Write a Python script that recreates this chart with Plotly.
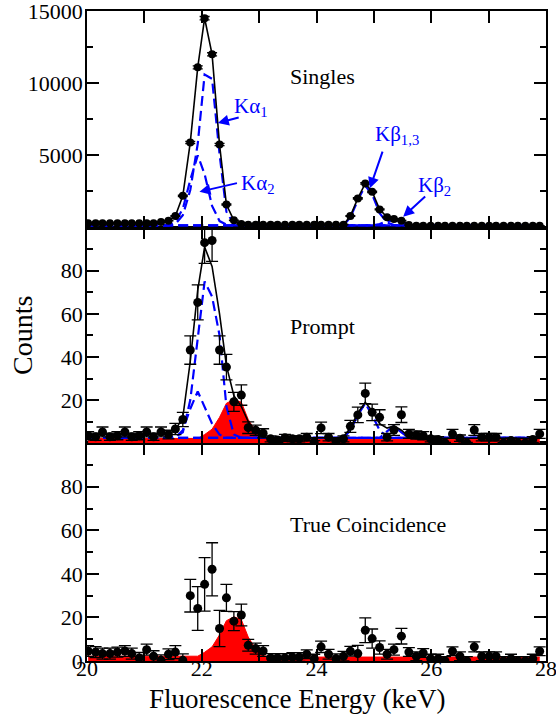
import plotly.graph_objects as go

# ---------------- data ----------------
energy = [20.02, 20.15, 20.27, 20.40, 20.53, 20.66, 20.78, 20.91, 21.04, 21.16,
          21.29, 21.42, 21.54, 21.67, 21.80, 21.93, 22.05, 22.18, 22.31, 22.43,
          22.56, 22.69, 22.81, 22.94, 23.07, 23.20, 23.32, 23.45, 23.58, 23.70,
          23.83, 23.96, 24.08, 24.21, 24.34, 24.47, 24.59, 24.72, 24.85, 24.97,
          25.10, 25.23, 25.35, 25.48, 25.61, 25.74, 25.86, 25.99, 26.12, 26.24,
          26.37, 26.50, 26.62, 26.75, 26.88, 27.01, 27.13, 27.26, 27.39, 27.51,
          27.64, 27.77, 27.89]

singles = [300] * 10 + [380, 480, 800, 2200, 5900, 11100, 14500, 12000, 5750, 1600, 500, 250] \
    + [200] * 14 + [800, 2020, 3060, 2480, 1260, 710, 590, 470, 180] + [130] * 18
singles_err = [17] * 10 + [19, 22, 28, 47, 77, 105, 120, 110, 76, 40, 22, 16] \
    + [14] * 14 + [28, 45, 55, 50, 35, 27, 24, 22, 13] + [11] * 18

s_ka1 = [150] * 12 + [250, 850, 2600, 5800, 10600, 10300, 5100, 1100, 250] + [150] * 42
s_ka2 = [150] * 12 + [400, 1300, 3300, 5000, 3700, 1500, 450, 200] + [150] * 43
s_kb13 = [150] * 36 + [700, 1900, 2900, 2300, 1000, 350, 180] + [150] * 20
s_kb2 = [150] * 40 + [250, 450, 480, 400, 200] + [150] * 18

prompt = [3.5, 3.0, 5.2, 3.0, 3.5, 5.2, 3.0, 3.5, 5.2, 3.0,
          5.2, 4.0, 6.6, 11.0, 43.2, 65.3, 93.0, 94.0, 43.2, 35.3,
          19.2, 22.3, 7.2, 6.0, 4.6, 2.0, 1.5, 2.5, 2.0, 2.0,
          2.8, 0.5, 7.1, 2.8, 0.8, 2.0, 7.8, 13.1, 23.1, 14.3,
          12.0, 2.8, 6.1, 13.2, 4.3, 3.8, 3.5, 2.0, 1.7, 0.1,
          4.3, 2.3, 0.1, 6.1, 2.8, 2.8, 2.8, 0.1, 1.2, 0.1,
          0.1, 1.7, 4.3]
prompt_err = [1.9, 1.7, 2.3, 1.7, 1.9, 2.3, 1.7, 1.9, 2.3, 1.7,
              2.3, 2.0, 2.6, 3.3, 6.6, 8.1, 9.6, 9.7, 6.6, 5.9,
              4.4, 4.7, 2.7, 2.4, 2.1, 1.4, 1.2, 1.6, 1.4, 1.4,
              1.7, 0.7, 2.7, 1.7, 0.9, 1.4, 2.8, 3.6, 4.8, 3.8,
              3.5, 1.7, 2.5, 3.6, 2.1, 1.9, 1.9, 1.4, 1.3, 0.3,
              2.1, 1.5, 0.3, 2.5, 1.7, 1.7, 1.7, 0.3, 1.1, 0.3,
              0.3, 1.3, 2.1]
prompt_fit = [4.0] * 11 + [4.3, 6, 12, 38, 71, 91, 82, 60, 36, 22, 17, 10, 5, 3] \
    + [2.5] * 10 + [3, 7, 14, 19, 15, 9, 7, 8, 6, 3] + [2.3] * 18
p_ka1 = [2.5] * 12 + [3, 5, 20, 50, 75, 68, 50, 17, 4] + [2.5] * 42
p_ka2 = [2.5] * 13 + [6, 16, 24, 17, 9, 4] + [2.5] * 44
p_kb13 = [2.5] * 36 + [6, 13, 18.5, 13, 6, 3] + [2.5] * 21
p_kb2 = [2.5] * 41 + [5.5, 8, 5] + [2.5] * 19

red_peak = [2.2] * 16 + [4, 6.5, 12, 18.5, 20.3, 19, 11, 5.5, 2.5] + [1.8] * 38

true_coinc = [4.6, 4.1, 3.4, 3.4, 4.1, 4.6, 3.4, 1.4, 5.2, 2.2,
              0.3, 3.1, 4.1, 0.3, 30.0, 24.1, 35.2, 42.1, 14.9, 29.0,
              18.3, 21.1, 7.2, 5.7, 4.6, 1.4, 1.4, 1.4, 1.8, 1.8,
              3.1, 1.1, 6.5, 3.1, 1.1, 2.2, 4.5, 3.4, 14.1, 10.3,
              6.2, 3.1, 5.2, 11.4, 4.1, 2.2, 3.7, 1.1, 1.1, 0.0,
              4.5, 2.2, 0.0, 6.5, 2.2, 2.2, 2.2, 0.0, 1.1, 0.0,
              0.0, 1.1, 4.5]
true_err = [2.5, 2.5, 2.5, 2.5, 2.3, 2.5, 2.5, 2.5, 2.5, 2.5,
            2.5, 2.5, 3.0, 3.0, 7.5, 10.0, 12.3, 12.2, 8.3, 6.2,
            4.4, 5.0, 2.7, 2.5, 2.5, 2.0, 2.0, 2.0, 2.0, 2.0,
            2.0, 2.0, 2.6, 2.2, 2.2, 2.2, 2.2, 3.8, 5.7, 4.4,
            3.0, 2.2, 2.5, 3.6, 2.0, 2.0, 2.0, 2.0, 2.0, 2.0,
            2.0, 2.0, 2.0, 2.3, 2.0, 2.0, 2.0, 2.0, 2.0, 2.0,
            2.0, 2.0, 2.0]

x_ticks = [20, 21, 22, 23, 24, 25, 26, 27, 28]
x_ticktext = ["20", "", "22", "", "24", "", "26", "", "28"]
top_ticks = [5000, 10000, 15000]
top_ticktext = ["5000", "10000", "15000"]

# ---------------- styling ----------------
SERIF = "Liberation Serif, Times New Roman, serif"
BLUE = "#0000ff"
RED = "#ff0000"
dash_style = dict(color=BLUE, width=2.2, dash="10px,5px")

fig = go.Figure()


def add_points(x, y, err, xa, ya, size=8, cap=5):
    fig.add_trace(go.Scatter(
        x=x, y=y, mode="markers", xaxis=xa, yaxis=ya,
        marker=dict(color="black", size=size, symbol="circle"),
        error_y=dict(type="data", array=err, color="black", thickness=1.3, width=cap),
        showlegend=False))


# top panel: Singles (x3/y3)
for comp in (s_ka1, s_ka2, s_kb13, s_kb2):
    fig.add_trace(go.Scatter(x=energy, y=comp, mode="lines", xaxis="x3", yaxis="y3",
                             line=dash_style, showlegend=False))
fig.add_trace(go.Scatter(x=energy, y=singles, mode="lines", xaxis="x3", yaxis="y3",
                         line=dict(color="black", width=1.6), showlegend=False))
add_points(energy, singles, singles_err, "x3", "y3", size=8, cap=5)

# middle panel: Prompt (x2/y2)
fig.add_trace(go.Scatter(x=energy, y=red_peak, mode="lines", xaxis="x2", yaxis="y2",
                         fill="tozeroy", fillcolor=RED, line=dict(color=RED, width=1),
                         showlegend=False))
for comp in (p_ka1, p_ka2, p_kb13, p_kb2):
    fig.add_trace(go.Scatter(x=energy, y=comp, mode="lines", xaxis="x2", yaxis="y2",
                             line=dash_style, showlegend=False))
fig.add_trace(go.Scatter(x=energy, y=prompt_fit, mode="lines", xaxis="x2", yaxis="y2",
                         line=dict(color="black", width=1.6), showlegend=False))
add_points(energy, prompt, prompt_err, "x2", "y2", size=9, cap=6)

# bottom panel: True Coincidence (x/y)
fig.add_trace(go.Scatter(x=energy, y=red_peak, mode="lines", xaxis="x", yaxis="y",
                         fill="tozeroy", fillcolor=RED, line=dict(color=RED, width=1),
                         showlegend=False))
add_points(energy, true_coinc, true_err, "x", "y", size=9, cap=6)

# ---------------- axes ----------------
tickfont = dict(family=SERIF, size=22, color="black")
common_x = dict(range=[20, 28], tickmode="array", tickvals=x_ticks, ticktext=x_ticktext,
                ticks="inside", ticklen=12, tickwidth=1.5, tickcolor="black",
                showline=True, linecolor="black", linewidth=1.8, mirror="ticks",
                showgrid=False, zeroline=False, tickfont=tickfont, automargin=False,
                ticklabeloverflow="allow", ticklabelstandoff=-13)
common_y = dict(ticks="inside", ticklen=12, tickwidth=1.5, tickcolor="black",
                showline=True, linecolor="black", linewidth=1.8, mirror="ticks",
                showgrid=False, zeroline=False, tickfont=tickfont, ticklabelstandoff=-2,
                automargin=False, ticklabeloverflow="allow")

d_low, d_mid = 0.3351, 0.6668

fig.update_layout(
    width=556, height=719,
    margin=dict(l=87, r=10, t=11, b=58),
    plot_bgcolor="white", paper_bgcolor="white",
    font=dict(family=SERIF),
    xaxis=dict(common_x, domain=[0, 1], anchor="y"),
    xaxis2=dict(common_x, domain=[0, 1], anchor="y2", matches="x", showticklabels=False),
    xaxis3=dict(common_x, domain=[0, 1], anchor="y3", matches="x", showticklabels=False),
    yaxis=dict(common_y, domain=[0, d_low], anchor="x", range=[0, 100],
               tickmode="array", tickvals=[0, 20, 40, 60, 80],
               minor=dict(tickmode="array", tickvals=[10, 30, 50, 70, 90],
                          ticks="inside", ticklen=6, tickcolor="black", tickwidth=1.5)),
    yaxis2=dict(common_y, domain=[d_low, d_mid], anchor="x2", range=[0, 100],
                tickmode="array", tickvals=[20, 40, 60, 80],
                minor=dict(tickmode="array", tickvals=[10, 30, 50, 70, 90],
                           ticks="inside", ticklen=6, tickcolor="black", tickwidth=1.5)),
    yaxis3=dict(common_y, domain=[d_mid, 1], anchor="x3", range=[0, 15000],
                tickmode="array", tickvals=top_ticks, ticktext=top_ticktext,
                minor=dict(tickmode="array", tickvals=[2500, 7500, 12500],
                           ticks="inside", ticklen=6, tickcolor="black", tickwidth=1.5)),
)

# ---------------- text annotations ----------------
ann = []
lab_font = dict(family=SERIF, size=22, color="black")
ann.append(dict(text="Singles", x=23.50, y=10430, xref="x3", yref="y3",
                xanchor="left", yanchor="middle", showarrow=False, font=lab_font))
ann.append(dict(text="Prompt", x=23.50, y=54.3, xref="x2", yref="y2",
                xanchor="left", yanchor="middle", showarrow=False, font=lab_font))
ann.append(dict(text="True Coincidence", x=23.50, y=62.8, xref="x", yref="y",
                xanchor="left", yanchor="middle", showarrow=False, font=lab_font))

blue_font = dict(family=SERIF, size=21, color=BLUE)
labels = [
    ("Kα<sub>1</sub>", 22.53, 8350, 22.28, 7240, 22.67, 7655),
    ("Kα<sub>2</sub>", 22.65, 3000, 21.96, 2480, 22.64, 3104),
    ("Kβ<sub>1,3</sub>", 24.98, 6400, 24.93, 2716, 25.16, 5369),
    ("Kβ<sub>2</sub>", 25.73, 2850, 25.51, 748, 25.92, 2252),
]
for txt, tx, ty, hx, hy, sx, sy in labels:
    ann.append(dict(text=txt, x=tx, y=ty, xref="x3", yref="y3", xanchor="left",
                    yanchor="middle", showarrow=False, font=blue_font))
    ann.append(dict(text="", x=hx, y=hy, ax=sx, ay=sy, xref="x3", yref="y3",
                    axref="x3", ayref="y3", showarrow=True, arrowhead=2,
                    arrowsize=1.1, arrowwidth=2, arrowcolor=BLUE))

ann.append(dict(text="Counts", x=-0.1416, y=0.5, xref="paper", yref="paper",
                xanchor="center", yanchor="middle", textangle=-90, showarrow=False,
                font=dict(family=SERIF, size=28, color="black")))
ann.append(dict(text="Fluorescence Energy (keV)", x=0.4586, y=-0.059, xref="paper",
                yref="paper", xanchor="center", yanchor="middle", showarrow=False,
                font=dict(family=SERIF, size=27, color="black")))
fig.update_layout(annotations=ann)

fig.write_html("out.html", config={"displayModeBar": False},
               post_script="document.body.style.margin='0';document.body.style.padding='0';")
